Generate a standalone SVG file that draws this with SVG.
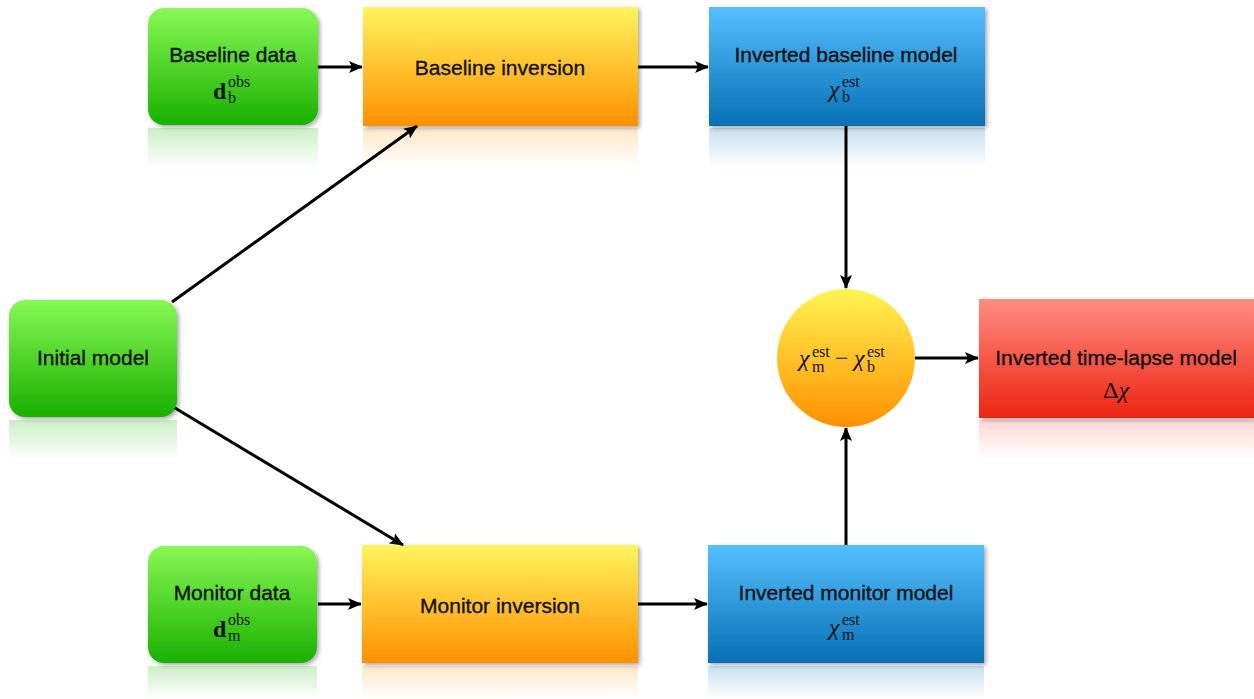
<svg xmlns="http://www.w3.org/2000/svg" width="1254" height="699" viewBox="0 0 1254 699">
<defs>
<linearGradient id="gGreen" x1="0" y1="0" x2="0" y2="1"><stop offset="0" stop-color="#88f855"/><stop offset="1" stop-color="#19b000"/></linearGradient>
<linearGradient id="gOrange" x1="0" y1="0" x2="0" y2="1"><stop offset="0" stop-color="#fff45e"/><stop offset="1" stop-color="#ff9000"/></linearGradient>
<linearGradient id="gBlue" x1="0" y1="0" x2="0" y2="1"><stop offset="0" stop-color="#55c0ff"/><stop offset="1" stop-color="#0670b5"/></linearGradient>
<linearGradient id="gRed" x1="0" y1="0" x2="0" y2="1"><stop offset="0" stop-color="#ff8c82"/><stop offset="1" stop-color="#ec2410"/></linearGradient>
<linearGradient id="gCircle" x1="0" y1="0" x2="0" y2="1"><stop offset="0" stop-color="#fff552"/><stop offset="1" stop-color="#ff9000"/></linearGradient>
<linearGradient id="rGreen" x1="0" y1="0" x2="0" y2="1"><stop offset="0" stop-color="#19b000" stop-opacity="0.22"/><stop offset="1" stop-color="#19b000" stop-opacity="0"/></linearGradient>
<linearGradient id="rOrange" x1="0" y1="0" x2="0" y2="1"><stop offset="0" stop-color="#ff9000" stop-opacity="0.22"/><stop offset="1" stop-color="#ff9000" stop-opacity="0"/></linearGradient>
<linearGradient id="rBlue" x1="0" y1="0" x2="0" y2="1"><stop offset="0" stop-color="#0670b5" stop-opacity="0.22"/><stop offset="1" stop-color="#0670b5" stop-opacity="0"/></linearGradient>
<linearGradient id="rRed" x1="0" y1="0" x2="0" y2="1"><stop offset="0" stop-color="#ec2410" stop-opacity="0.18"/><stop offset="1" stop-color="#ec2410" stop-opacity="0"/></linearGradient>
<filter id="sh" x="-10%" y="-10%" width="125%" height="130%"><feDropShadow dx="2" dy="2" stdDeviation="2" flood-color="#000" flood-opacity="0.35"/></filter>
<marker id="arr" markerWidth="14" markerHeight="12" refX="13" refY="6" orient="auto" markerUnits="userSpaceOnUse"><path d="M0,0 L14,6 L0,12 L3,6 Z" fill="#000"/></marker>
</defs>
<style>
.lbl{font-family:"Liberation Sans",Arial,sans-serif;font-size:21px;fill:#111;stroke:#111;stroke-width:0.35;text-anchor:middle}
.m{font-family:"Liberation Serif","Times New Roman",serif;font-size:24px;fill:#111}
.s{font-family:"Liberation Serif","Times New Roman",serif;font-size:16px;fill:#111}
.i{font-style:italic}
.b{font-weight:bold}
.conn{stroke:#000;stroke-width:3;fill:none;marker-end:url(#arr)}
</style>
<rect width="1254" height="699" fill="#fff"/>

<g id="baseline-data">
<rect x="148" y="128" width="170" height="40" fill="url(#rGreen)"/>
<rect x="148" y="8" width="170" height="117" rx="16" fill="url(#gGreen)" filter="url(#sh)"/>
<text class="lbl" x="233" y="62">Baseline data</text>
<text class="m b" x="213" y="99">d</text>
<text class="s" x="228" y="87">obs</text>
<text class="s" x="228" y="103">b</text>
</g>

<g id="baseline-inversion">
<rect x="363" y="128" width="275" height="40" fill="url(#rOrange)"/>
<rect x="363" y="7" width="275" height="119" fill="url(#gOrange)" filter="url(#sh)"/>
<text class="lbl" x="500" y="75">Baseline inversion</text>
</g>

<g id="inverted-baseline-model">
<rect x="709" y="128" width="276" height="40" fill="url(#rBlue)"/>
<rect x="709" y="7" width="276" height="119" fill="url(#gBlue)" filter="url(#sh)"/>
<text class="lbl" x="846" y="62">Inverted baseline model</text>
<text class="m i" x="829" y="97">χ</text>
<text class="s" x="842" y="87">est</text>
<text class="s" x="842" y="102">b</text>
</g>

<g id="initial-model">
<rect x="9" y="420" width="168" height="40" fill="url(#rGreen)"/>
<rect x="9" y="300" width="168" height="117" rx="16" fill="url(#gGreen)" filter="url(#sh)"/>
<text class="lbl" x="93" y="365">Initial model</text>
</g>

<g id="difference">
<circle cx="846" cy="358" r="69" fill="url(#gCircle)"/>
<text class="m i" x="799" y="366">χ</text>
<text class="s" x="812" y="357">est</text>
<text class="s" x="812" y="372">m</text>
<text class="m" x="835" y="366">−</text>
<text class="m i" x="854" y="366">χ</text>
<text class="s" x="867" y="357">est</text>
<text class="s" x="867" y="372">b</text>
</g>

<g id="inverted-time-lapse-model">
<rect x="979" y="420" width="275" height="40" fill="url(#rRed)"/>
<rect x="979" y="299" width="275" height="119" fill="url(#gRed)" filter="url(#sh)"/>
<text class="lbl" x="1116" y="365">Inverted time-lapse model</text>
<text class="m" x="1116" y="398" text-anchor="middle">Δ<tspan class="i">χ</tspan></text>
</g>

<g id="monitor-data">
<rect x="148" y="666" width="169" height="33" fill="url(#rGreen)"/>
<rect x="148" y="546" width="169" height="117" rx="16" fill="url(#gGreen)" filter="url(#sh)"/>
<text class="lbl" x="232" y="600">Monitor data</text>
<text class="m b" x="213" y="637">d</text>
<text class="s" x="228" y="625">obs</text>
<text class="s" x="228" y="641">m</text>
</g>

<g id="monitor-inversion">
<rect x="362" y="666" width="276" height="33" fill="url(#rOrange)"/>
<rect x="362" y="545" width="276" height="118" fill="url(#gOrange)" filter="url(#sh)"/>
<text class="lbl" x="500" y="613">Monitor inversion</text>
</g>

<g id="inverted-monitor-model">
<rect x="708" y="666" width="276" height="33" fill="url(#rBlue)"/>
<rect x="708" y="545" width="276" height="118" fill="url(#gBlue)" filter="url(#sh)"/>
<text class="lbl" x="846" y="600">Inverted monitor model</text>
<text class="m i" x="829" y="635">χ</text>
<text class="s" x="842" y="625">est</text>
<text class="s" x="842" y="640">m</text>
</g>

<g id="connectors">
<line class="conn" x1="318" y1="67" x2="362" y2="67"/>
<line class="conn" x1="638" y1="67" x2="708" y2="67"/>
<line class="conn" x1="846" y1="126" x2="846" y2="288"/>
<line class="conn" x1="172" y1="302" x2="417" y2="126"/>
<line class="conn" x1="175" y1="408" x2="403" y2="545"/>
<line class="conn" x1="318" y1="604" x2="361" y2="604"/>
<line class="conn" x1="638" y1="604" x2="707" y2="604"/>
<line class="conn" x1="846" y1="545" x2="846" y2="428"/>
<line class="conn" x1="915" y1="358" x2="978" y2="358"/>
</g>
</svg>
